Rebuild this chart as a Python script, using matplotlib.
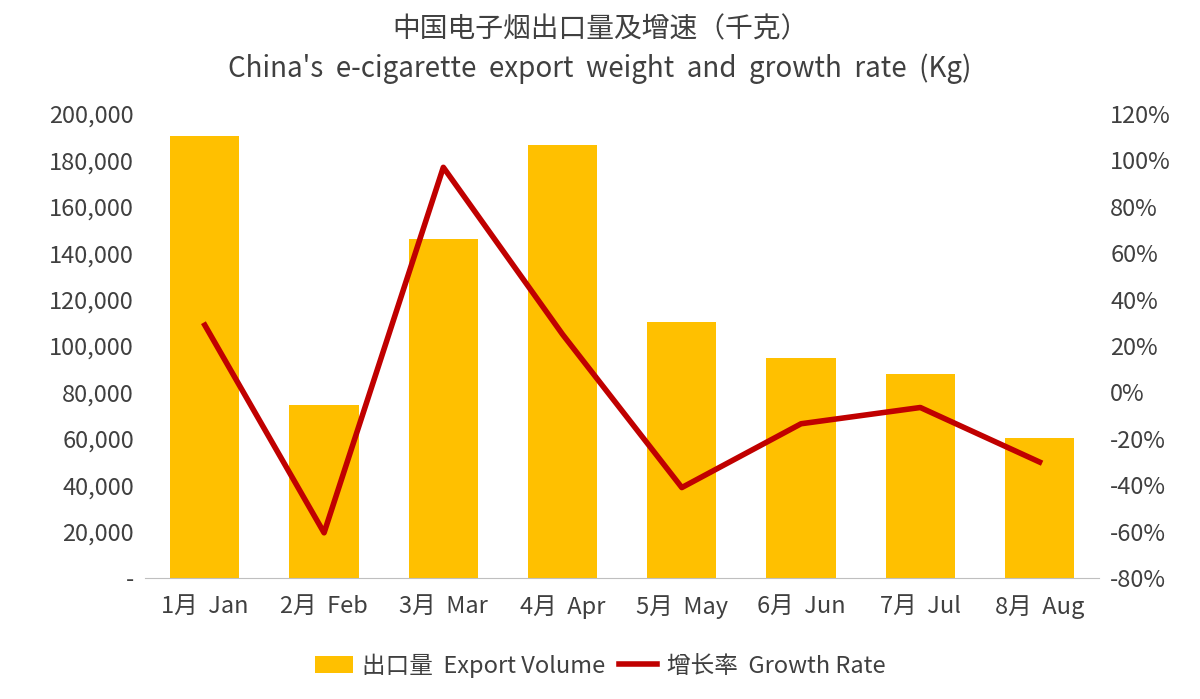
import matplotlib.pyplot as plt
import matplotlib.ticker as mticker
from matplotlib import font_manager as fm

cjk = [f for f in fm.findSystemFonts() if 'CJK' in f or 'cjk' in f.lower()]
for f in cjk:
    try:
        fm.fontManager.addfont(f)
    except Exception:
        pass
names = sorted({e.name for e in fm.fontManager.ttflist if 'CJK' in e.name})
cjk_name = next((n for n in names if 'SC' in n), names[0] if names else 'DejaVu Sans')
plt.rcParams['font.family'] = [cjk_name]

months = ['1月  Jan', '2月  Feb', '3月  Mar', '4月  Apr', '5月  May', '6月  Jun', '7月  Jul', '8月  Aug']
export_kg = [190500, 74500, 146000, 186500, 110500, 95000, 88000, 60500]
growth_pct = [29, -60.5, 97, 25, -41, -13.5, -6.5, -30]

fig = plt.figure(figsize=(12, 6.99), dpi=100)
ax = fig.add_axes([0.121, 0.173, 0.795, 0.664])
ax2 = ax.twinx()

x = range(len(months))
bars = ax.bar(x, export_kg, width=0.58, color='#FFC000')
line, = ax2.plot(x, growth_pct, color='#C00000', lw=4)

ax.set_ylim(0, 200000)
ax.set_yticks(range(0, 200001, 20000))
ax.yaxis.set_major_formatter(mticker.FuncFormatter(lambda v, p: '-' if v == 0 else f'{int(v):,}'))
ax2.set_ylim(-80, 120)
ax2.set_yticks(range(-80, 121, 20))
ax2.yaxis.set_major_formatter(mticker.FuncFormatter(lambda v, p: f'{int(v)}%'))
ax.set_xlim(-0.5, 7.5)
ax.set_xticks(list(x))
ax.set_xticklabels(months)

for a in (ax, ax2):
    for s in a.spines.values():
        s.set_visible(False)
    a.tick_params(length=0, labelsize=17, colors='#404040', pad=8)
ax.spines['bottom'].set_visible(True)
ax.spines['bottom'].set_color('#BFBFBF')
ax.tick_params(axis='x', pad=12)

fig.text(0.5, 0.958, '中国电子烟出口量及增速（千克）', ha='center', va='center', fontsize=20, color='#404040')
fig.text(0.5, 0.902, "China's  e-cigarette  export  weight  and  growth  rate  (Kg)", ha='center', va='center', fontsize=20, color='#404040')

fig.legend([bars, line], ['出口量  Export Volume', '增长率  Growth Rate'], loc='center', bbox_to_anchor=(0.5, 0.048),
           ncol=2, frameon=False, fontsize=17, labelcolor='#404040', handlelength=1.6, columnspacing=0.6, handletextpad=0.4)

fig.savefig('out.png', dpi=100)
